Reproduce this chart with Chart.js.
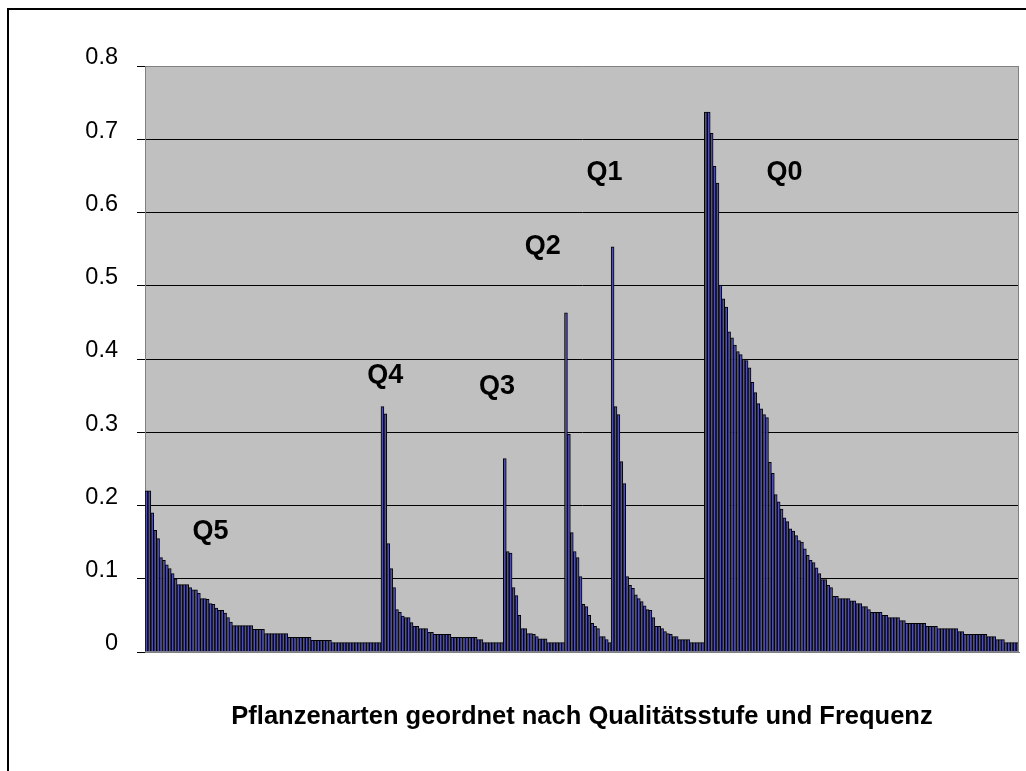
<!DOCTYPE html>
<html>
<head>
<meta charset="utf-8">
<title>Pflanzenarten geordnet nach Qualitätsstufe und Frequenz</title>
<script src="https://cdn.jsdelivr.net/npm/chart.js@4.4.0/dist/chart.umd.min.js"></script>
<style>
  html, body { margin: 0; padding: 0; background: #fff; overflow: hidden; }
  #wrap { position: relative; width: 1026px; height: 771px; }
</style>
</head>
<body>
<div id="wrap"><canvas id="chart"></canvas></div>
<script>
// Frequenzen je Qualitätsstufe, absteigend sortiert
var q5Values = [
    0.22, 0.22, 0.19, 0.166, 0.155, 0.129, 0.125, 0.119, 0.114, 0.107,
    0.100, 0.092, 0.092, 0.092, 0.092, 0.088, 0.085, 0.085, 0.080, 0.073,
    0.073, 0.072, 0.066, 0.065, 0.060, 0.057, 0.057, 0.053, 0.047, 0.041,
    0.036, 0.036, 0.036, 0.036, 0.036, 0.036, 0.036,
    0.031, 0.031, 0.031, 0.031,
    0.025, 0.025, 0.025, 0.025, 0.025, 0.025, 0.025, 0.025,
    0.020, 0.020, 0.020, 0.020, 0.020, 0.020, 0.020, 0.020,
    0.016, 0.016, 0.016, 0.016, 0.016, 0.016, 0.016,
    0.013, 0.013, 0.013, 0.013, 0.013, 0.013, 0.013, 0.013, 0.013,
    0.013, 0.013, 0.013, 0.013, 0.013, 0.013, 0.013, 0.013
];

var q4Values = [
    0.335, 0.325, 0.148, 0.114, 0.088, 0.058, 0.054, 0.049, 0.047, 0.047,
    0.040, 0.035, 0.035, 0.032, 0.032, 0.032, 0.027, 0.027,
    0.024, 0.024, 0.024, 0.024, 0.024, 0.024,
    0.020, 0.020, 0.020, 0.020, 0.020, 0.020, 0.020, 0.020, 0.020,
    0.017, 0.017,
    0.013, 0.013, 0.013, 0.013, 0.013, 0.013, 0.013
];

var q3Values = [
    0.264, 0.137, 0.135, 0.088, 0.077, 0.050, 0.032, 0.032, 0.025, 0.025,
    0.024, 0.021, 0.018, 0.018, 0.018,
    0.013, 0.013, 0.013, 0.013, 0.013, 0.013
];

var q2Values = [
    0.463, 0.297, 0.163, 0.137, 0.129, 0.103, 0.065, 0.062, 0.050, 0.039,
    0.035, 0.032, 0.021, 0.021, 0.017, 0.013
];

var q1Values = [
    0.553, 0.335, 0.324, 0.260, 0.230, 0.103, 0.091, 0.087, 0.078, 0.073,
    0.069, 0.063, 0.058, 0.057, 0.047, 0.035, 0.035, 0.032, 0.028, 0.025,
    0.024, 0.021, 0.021, 0.017, 0.017, 0.017, 0.017,
    0.013, 0.013, 0.013, 0.013, 0.013
];

var q0Values = [
    0.737, 0.737, 0.708, 0.663, 0.640, 0.501, 0.482, 0.471, 0.437, 0.429,
    0.419, 0.410, 0.406, 0.400, 0.398, 0.388, 0.368, 0.354, 0.339, 0.332,
    0.324, 0.320, 0.259, 0.244, 0.215, 0.205, 0.195, 0.183, 0.178, 0.168,
    0.165, 0.159, 0.152, 0.150,
    0.141, 0.132, 0.125, 0.122, 0.115, 0.107, 0.099, 0.099, 0.091, 0.088,
    0.076, 0.076, 0.073, 0.073, 0.073, 0.073, 0.070, 0.070, 0.066, 0.066,
    0.062, 0.062, 0.058, 0.054, 0.054, 0.054, 0.054, 0.050, 0.050,
    0.047, 0.047, 0.047, 0.047, 0.043, 0.043,
    0.039, 0.039, 0.039, 0.039, 0.039, 0.039, 0.039,
    0.035, 0.035, 0.035, 0.035,
    0.032, 0.032, 0.032, 0.032, 0.032, 0.032, 0.032,
    0.028, 0.028,
    0.024, 0.024, 0.024, 0.024, 0.024, 0.024, 0.024, 0.024,
    0.021, 0.021, 0.021,
    0.017, 0.017, 0.017,
    0.013, 0.013, 0.013, 0.013, 0.013
];

var yTickLabels = ["0", "0.1", "0.2", "0.3", "0.4", "0.5", "0.6", "0.7", "0.8"];

// Beschriftung der Stufen: Text, Position in Artindex / Frequenz
var groupNames = ["Q5", "Q4", "Q3", "Q2", "Q1", "Q0"];
var groupLabelIndex = [22, 82, 120.3, 136, 157.2, 219];
var groupLabelValue = [0.165, 0.377, 0.362, 0.554, 0.654, 0.654];

var xTitle = "Pflanzenarten geordnet nach Qualitätsstufe und Frequenz";

var values = [].concat(q5Values, q4Values, q3Values, q2Values, q1Values, q0Values);
var labels = values.map(function (v, i) { return i + 1; });

var FONT = '"Liberation Sans", Arial, Helvetica, sans-serif';

var plotBackground = {
    id: "plotBackground",
    beforeDraw: function (chart) {
        var ctx = chart.ctx, a = chart.chartArea;
        ctx.save();
        ctx.fillStyle = "#ffffff";
        ctx.fillRect(0, 0, chart.width, chart.height);
        ctx.strokeStyle = "#000000";
        ctx.lineWidth = 2;
        ctx.strokeRect(8, 9, chart.width + 40, chart.height + 40);
        ctx.fillStyle = "#c0c0c0";
        ctx.fillRect(a.left, a.top, a.right - a.left, a.bottom - a.top);
        ctx.restore();
    },
    afterDraw: function (chart) {
        var ctx = chart.ctx, a = chart.chartArea;
        ctx.save();
        ctx.strokeStyle = "#808080";
        ctx.lineWidth = 1;
        ctx.beginPath();
        ctx.moveTo(Math.round(a.right) - 0.5, a.top);
        ctx.lineTo(Math.round(a.right) - 0.5, a.bottom);
        ctx.stroke();
        ctx.restore();
    }
};

var groupLabels = {
    id: "groupLabels",
    afterDatasetsDraw: function (chart) {
        var ctx = chart.ctx, x = chart.scales.x, y = chart.scales.y;
        ctx.save();
        ctx.font = "bold 27px " + FONT;
        ctx.fillStyle = "#000000";
        ctx.textAlign = "center";
        ctx.textBaseline = "middle";
        groupNames.forEach(function (name, i) {
            ctx.fillText(name, x.getPixelForValue(groupLabelIndex[i]), y.getPixelForValue(groupLabelValue[i]));
        });
        ctx.restore();
    }
};

new Chart(document.getElementById("chart").getContext("2d"), {
    type: "bar",
    data: {
        labels: labels,
        datasets: [
            {
                data: values,
                backgroundColor: "#5050a8",
                borderColor: "#000000",
                borderWidth: 1,
                barPercentage: 1,
                categoryPercentage: 1
            }
        ]
    },
    options: {
        responsive: true,
        maintainAspectRatio: false,
        animation: false,
        layout: {
            padding: { left: 0, top: 66, right: 7, bottom: 0 }
        },
        plugins: {
            legend: { display: false },
            tooltip: { enabled: false }
        },
        scales: {
            x: {
                grid: { display: false },
                border: { color: "#808080" },
                ticks: { display: false },
                title: {
                    display: true,
                    text: xTitle,
                    color: "#000000",
                    font: { family: FONT, size: 25.5, weight: "bold" },
                    padding: { top: 0, bottom: 39 }
                },
                afterFit: function (scale) { scale.height = 119; }
            },
            y: {
                min: 0,
                max: 0.8,
                grid: {
                    color: function (c) { return c.tick && c.tick.value >= 0.79 ? "#808080" : "#000000"; },
                    tickColor: "#000000",
                    tickLength: 8
                },
                border: { color: "#808080" },
                ticks: {
                    stepSize: 0.1,
                    color: "#000000",
                    padding: 19,
                    labelOffset: -8,
                    font: { family: FONT, size: 23.5 },
                    callback: function (value, index) { return yTickLabels[index]; }
                },
                afterFit: function (scale) { scale.width = 145; }
            }
        }
    },
    plugins: [plotBackground, groupLabels]
});
</script>
</body>
</html>
